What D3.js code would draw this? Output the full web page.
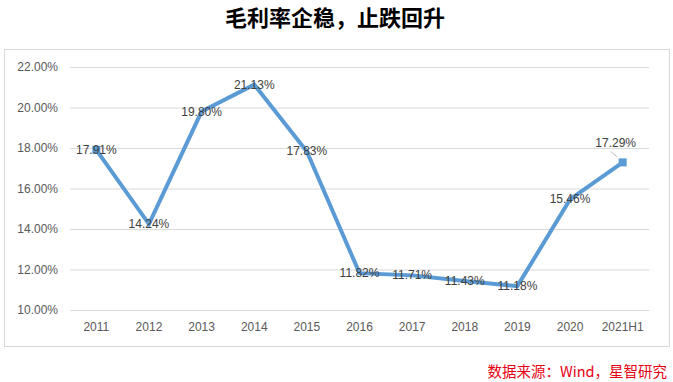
<!DOCTYPE html>
<html><head><meta charset="utf-8">
<script src="https://cdn.jsdelivr.net/npm/d3@7"></script>
<style>body{margin:0;background:#fff}svg{display:block}</style>
</head><body>
<script>
const categories = ["2011","2012","2013","2014","2015","2016","2017","2018","2019","2020","2021H1"];
const values = [17.91,14.24,19.80,21.13,17.83,11.82,11.71,11.43,11.18,15.46,17.29];
const yTicks = [10,12,14,16,18,20,22];
const title = "毛利率企稳，止跌回升";
const source = "数据来源：Wind，星智研究";

const W = 673, H = 382;
const svg = d3.select("body").append("svg").attr("width", W).attr("height", H);
const latin = "'Liberation Sans', Arial, sans-serif";
const cjk = "'Noto Sans CJK SC', sans-serif";

svg.append("text").attr("x", 335).attr("y", 26).attr("text-anchor", "middle")
  .attr("font-family", cjk).attr("font-weight", "bold").attr("font-size", 22).attr("fill", "#000").text(title);

svg.append("rect").attr("x", 4.5).attr("y", 49.5).attr("width", 665).attr("height", 297)
  .attr("fill", "none").attr("stroke", "#d9d9d9");

const x = d3.scaleBand().domain(categories).range([70, 649]);
const y = d3.scaleLinear().domain([10, 22]).range([310, 67]);

const gy = svg.append("g").attr("transform", "translate(70,0)")
  .call(d3.axisLeft(y).tickValues(yTicks).tickSize(-579).tickPadding(12).tickFormat(d => d.toFixed(2) + "%"));
gy.select(".domain").remove();
gy.selectAll(".tick line").attr("stroke", "#d9d9d9");
gy.selectAll(".tick text").attr("font-family", latin).attr("font-size", 12).attr("fill", "#595959");

const gx = svg.append("g").attr("transform", "translate(0,310)")
  .call(d3.axisBottom(x).tickSize(0).tickPadding(12));
gx.select(".domain").remove();
gx.selectAll(".tick text").attr("font-family", latin).attr("font-size", 12).attr("fill", "#595959");

const cx = (d, i) => x(categories[i]) + x.bandwidth() / 2;
const line = d3.line().x((d, i) => cx(d, i)).y(d => y(d));
svg.append("path").datum(values).attr("d", line).attr("fill", "none")
  .attr("stroke", "#5b9bd5").attr("stroke-width", 4).attr("stroke-linejoin", "miter");

const last = values.length - 1;
svg.selectAll("rect.m").data(values.map((v, i) => ({v, i})).filter(o => o.i === 0 || o.i === last))
  .enter().append("rect").attr("class", "m")
  .attr("x", o => cx(o.v, o.i) - 4).attr("y", o => y(o.v) - 4).attr("width", 8).attr("height", 8)
  .attr("fill", "#5b9bd5");

// leader line for last label
svg.append("line").attr("x1", cx(values[last], last) - 12).attr("y1", y(values[last]) - 11)
  .attr("x2", cx(values[last], last) - 5).attr("y2", y(values[last]) - 5)
  .attr("stroke", "#bfbfbf").attr("stroke-width", 1);

svg.selectAll("text.lbl").data(values).enter().append("text").attr("class", "lbl")
  .attr("x", (d, i) => i === last ? cx(d, i) - 7 : cx(d, i))
  .attr("y", (d, i) => i === last ? y(d) - 15 : y(d) + 4)
  .attr("text-anchor", "middle").attr("font-family", latin).attr("font-size", 12).attr("fill", "#404040")
  .text(d => d.toFixed(2) + "%");

svg.append("text").attr("x", 667).attr("y", 377).attr("text-anchor", "end")
  .attr("font-family", cjk).attr("font-size", 14.5).attr("fill", "#e60012").text(source);
</script>
</body></html>
